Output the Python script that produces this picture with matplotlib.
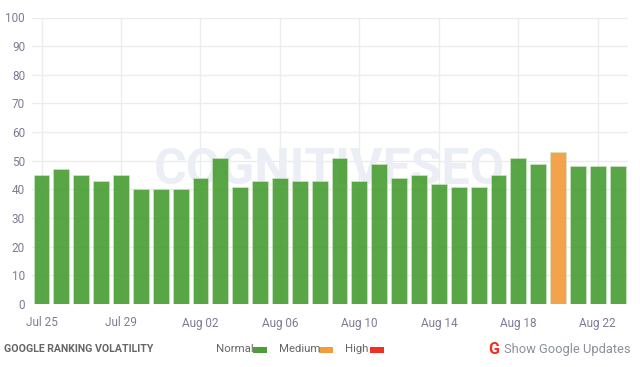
import matplotlib
matplotlib.use("Agg")
import matplotlib.pyplot as plt
from matplotlib.patches import Rectangle

plt.rcParams['font.family'] = ['Roboto', 'DejaVu Sans']

days = ["Jul 25", "Jul 26", "Jul 27", "Jul 28", "Jul 29", "Jul 30", "Jul 31", "Aug 01",
        "Aug 02", "Aug 03", "Aug 04", "Aug 05", "Aug 06", "Aug 07", "Aug 08", "Aug 09",
        "Aug 10", "Aug 11", "Aug 12", "Aug 13", "Aug 14", "Aug 15", "Aug 16", "Aug 17",
        "Aug 18", "Aug 19", "Aug 20", "Aug 21", "Aug 22", "Aug 23"]
volatility = [45, 47, 45, 43, 45, 40, 40, 40, 44, 51, 41, 43, 44, 43, 43, 51, 43, 49, 44, 45,
              42, 41, 41, 45, 51, 49, 53, 48, 48, 48]
levels = ["Normal", "Medium", "High"]
level_colors = {"Normal": "#4c9f38", "Medium": "#f39c3d", "High": "#ee3124"}
yticks = list(range(0, 101, 10))

W, H = 640, 367
fig = plt.figure(figsize=(W / 100, H / 100), dpi=100)
ax = fig.add_axes([32 / W, 1 - 304 / H, 596 / W, 286.5 / H])

colors = [level_colors["Medium"] if v > 50 and i == 26 else level_colors["Normal"]
          for i, v in enumerate(volatility)]
ax.bar(range(len(days)), volatility, width=0.8, color=colors, alpha=0.93,
       edgecolor="#cfe6c8", linewidth=0.5, zorder=3)

ax.set_xlim(-0.48, 29.52)
ax.set_ylim(0, 100)
ax.set_yticks(yticks)
ax.set_xticks(range(0, len(days), 4))
ax.set_xticklabels(days[::4])
ax.tick_params(length=0, labelsize=8.5, labelcolor="#7c7c96", pad=9)
ax.tick_params(axis="y", pad=5)
ax.grid(True, color="#ececec", linewidth=1, zorder=0)
ax.set_axisbelow(True)
for s in ax.spines.values():
    s.set_visible(False)

# watermark behind the bars
ax.text(0.5, 0.465, "COGNITIVESEO", transform=ax.transAxes, ha="center", va="center",
        fontsize=36, fontweight="bold", color="#eceef5", zorder=1)


def px(x, y):
    return x / W, 1 - y / H


fig.text(*px(4, 349.5), "GOOGLE RANKING VOLATILITY", fontsize=7.6, fontweight="bold",
         color="#666666", va="center")

legend_x = {"Normal": (216, 253), "Medium": (279, 319), "High": (345, 370)}
for lev in levels:
    tx, bx = legend_x[lev]
    fig.text(*px(tx, 349.5), lev, fontsize=8.2, color="#666666", va="center")
    fig.add_artist(Rectangle(px(bx, 352.5), 14 / W, 6 / H, transform=fig.transFigure,
                             color=level_colors[lev], linewidth=0))

fig.text(*px(488, 349), "G", fontsize=11.5, fontweight="bold", color="#ee3124", va="center")
fig.text(*px(503.5, 350), "Show Google Updates", fontsize=9.3, color="#8a8f98", va="center")

fig.savefig("out.png", dpi=100)
